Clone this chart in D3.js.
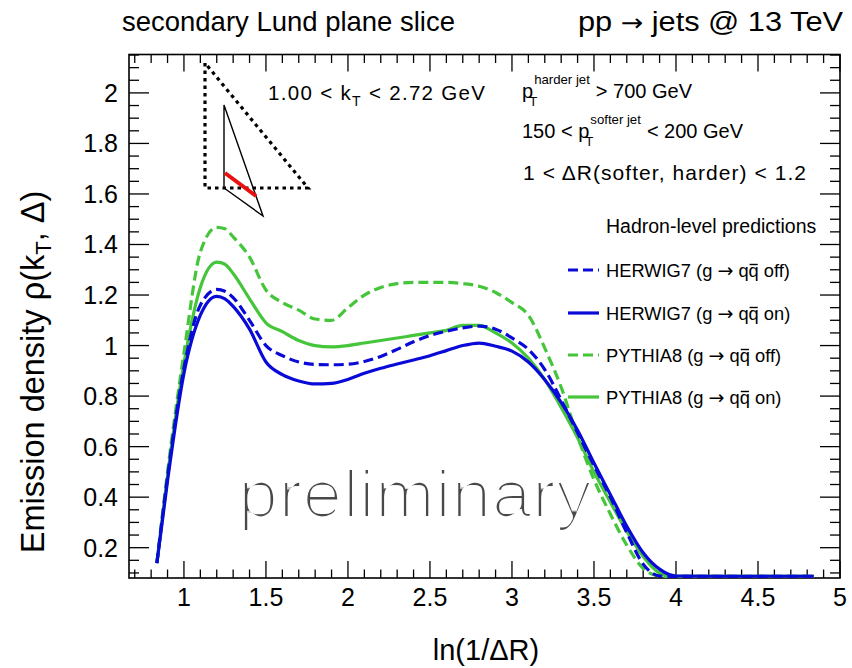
<!DOCTYPE html>
<html>
<head>
<meta charset="utf-8">
<script src="https://cdn.jsdelivr.net/npm/d3@7"></script>
<style>
  body { margin: 0; background: #fff; }
  svg { display: block; }
  text { font-family: "Liberation Sans", Arial, Helvetica, sans-serif; fill: #000; white-space: pre; }
  .sym { font-family: "DejaVu Sans", sans-serif; }
</style>
</head>
<body>
<svg id="chart" width="852" height="668"></svg>
<script>
// ln(1/ΔR) sampling points shared by all four predictions
const lnInvDR = [0.835, 0.9, 1.0, 1.1, 1.2, 1.25, 1.3, 1.4, 1.5, 1.6, 1.7, 1.8, 1.9, 2.0,
  2.1, 2.2, 2.3, 2.4, 2.5, 2.6, 2.7, 2.8, 2.9, 3.0, 3.1, 3.2, 3.3, 3.4, 3.5, 3.6,
  3.7, 3.8, 3.9, 4.0, 4.2, 4.4, 4.6, 4.84];

// emission density rho(kT, Delta) for each generator setting
const herwigOff = [0.139, 0.48, 0.91, 1.16, 1.222, 1.215, 1.19, 1.10, 1.00, 0.96, 0.935, 0.925,
  0.924, 0.926, 0.937, 0.957, 0.985, 1.015, 1.04, 1.057, 1.07, 1.077, 1.065, 1.03, 0.985,
  0.905, 0.785, 0.655, 0.525, 0.40, 0.26, 0.135, 0.088, 0.086, 0.087, 0.086, 0.087, 0.087];
const herwigOn = [0.139, 0.465, 0.89, 1.12, 1.195, 1.185, 1.155, 1.065, 0.935, 0.885, 0.86, 0.848,
  0.85, 0.866, 0.89, 0.91, 0.927, 0.943, 0.96, 0.98, 1.0, 1.01, 0.997, 0.978, 0.935,
  0.865, 0.775, 0.665, 0.535, 0.41, 0.285, 0.18, 0.115, 0.088, 0.087, 0.087, 0.087, 0.087];
const pythiaOff = [0.139, 0.50, 0.97, 1.37, 1.468, 1.462, 1.43, 1.35, 1.22, 1.17, 1.14, 1.105,
  1.10, 1.15, 1.20, 1.23, 1.245, 1.25, 1.25, 1.25, 1.245, 1.235, 1.21, 1.17, 1.12,
  0.99, 0.835, 0.64, 0.47, 0.333, 0.21, 0.118, 0.088, 0.086, 0.087, 0.087, 0.087, 0.087];
const pythiaOn = [0.139, 0.485, 0.93, 1.23, 1.33, 1.322, 1.285, 1.185, 1.09, 1.055, 1.02, 1.0,
  0.995, 1.0, 1.01, 1.02, 1.03, 1.04, 1.05, 1.06, 1.08, 1.08, 1.05, 1.01, 0.95,
  0.865, 0.755, 0.635, 0.50, 0.38, 0.265, 0.165, 0.10, 0.087, 0.087, 0.087, 0.087, 0.087];

const seriesNames = ["HERWIG7 (g ", "HERWIG7 (g ", "PYTHIA8 (g ", "PYTHIA8 (g "];
const seriesTails = [" off)", " on)", " off)", " on)"];
const seriesData = [herwigOff, herwigOn, pythiaOff, pythiaOn];
const seriesColors = ["#0a0ad8", "#0a0ad8", "#44c53a", "#44c53a"];
const seriesDashed = [true, false, true, false];

const xTickValues = [1, 1.5, 2, 2.5, 3, 3.5, 4, 4.5, 5];
const yTickValues = [0.2, 0.4, 0.6, 0.8, 1, 1.2, 1.4, 1.6, 1.8, 2];

const xDomain = [0.665, 5];
const yDomain = [0.08, 2.152];

const svg = d3.select("#chart");
const plot = { left: 129, right: 840, top: 54.5, bottom: 578 };

const x = d3.scaleLinear().domain(xDomain).range([plot.left, plot.right]);
const y = d3.scaleLinear().domain(yDomain).range([plot.bottom, plot.top]);

// minor tick positions
const xMinor = d3.range(7, 50).map(v => v / 10).filter(v => v > xDomain[0] && v < xDomain[1]);
const yMinor = d3.range(2, 44).map(v => v * 0.05).filter(v => v > yDomain[0] + 0.005 && v < yDomain[1] + 0.005);
const isMajor = (v, majors) => majors.some(t => Math.abs(t - v) < 1e-6);

// ---- axes (ticks on all four sides) ----
const axes = svg.append("g").attr("stroke", "#000").attr("stroke-width", 1.3);
function drawTicks(vals, len, side) {
  vals.forEach(v => {
    if (side === "bottom") axes.append("line").attr("x1", x(v)).attr("x2", x(v)).attr("y1", plot.bottom).attr("y2", plot.bottom - len);
    if (side === "top") axes.append("line").attr("x1", x(v)).attr("x2", x(v)).attr("y1", plot.top).attr("y2", plot.top + len);
    if (side === "left") axes.append("line").attr("y1", y(v)).attr("y2", y(v)).attr("x1", plot.left).attr("x2", plot.left + len);
    if (side === "right") axes.append("line").attr("y1", y(v)).attr("y2", y(v)).attr("x1", plot.right).attr("x2", plot.right - len);
  });
}
drawTicks(xTickValues, 17, "bottom");
drawTicks(xTickValues, 17, "top");
drawTicks(xMinor.filter(v => !isMajor(v, xTickValues)), 8.5, "bottom");
drawTicks(xMinor.filter(v => !isMajor(v, xTickValues)), 8.5, "top");
drawTicks(yTickValues, 20, "left");
drawTicks(yTickValues, 20, "right");
drawTicks(yMinor.filter(v => !isMajor(v, yTickValues)), 10, "left");
drawTicks(yMinor.filter(v => !isMajor(v, yTickValues)), 10, "right");

axes.append("rect").attr("x", plot.left).attr("y", plot.top)
  .attr("width", plot.right - plot.left).attr("height", plot.bottom - plot.top)
  .attr("fill", "none").attr("stroke-width", 1.6);

// tick labels
const fmt = v => (Math.round(v * 10) / 10).toString();
svg.append("g").selectAll("text").data(xTickValues).join("text")
  .attr("x", d => x(d)).attr("y", 606).attr("text-anchor", "middle")
  .attr("font-size", 25).text(fmt);
svg.append("g").selectAll("text").data(yTickValues).join("text")
  .attr("x", 118).attr("y", d => y(d) + 9).attr("text-anchor", "end")
  .attr("font-size", 25).text(fmt);

// axis titles
svg.append("text").attr("x", 486).attr("y", 660).attr("text-anchor", "middle")
  .attr("font-size", 29).text("ln(1/\u0394R)");
const yTitle = svg.append("text").attr("transform", "translate(44,372) rotate(-90)")
  .attr("text-anchor", "middle").attr("font-size", 32.5);
yTitle.append("tspan").text("Emission density \u03c1(k");
yTitle.append("tspan").attr("font-size", 22).attr("dy", 7).text("T");
yTitle.append("tspan").attr("dy", -7).text(", \u0394)");

// ---- curves ----
svg.append("clipPath").attr("id", "plotclip").append("rect")
  .attr("x", plot.left).attr("y", plot.top)
  .attr("width", plot.right - plot.left).attr("height", plot.bottom - plot.top);
const line = d3.line().x(d => x(d[0])).y(d => y(d[1])).curve(d3.curveMonotoneX);
const curves = svg.append("g").attr("clip-path", "url(#plotclip)");

// ---- preliminary watermark (thin strokes via erosion) ----
const defs = svg.append("defs");
defs.append("filter").attr("id", "thin").attr("x", "-5%").attr("y", "-5%").attr("width", "110%").attr("height", "110%")
  .append("feMorphology").attr("operator", "erode").attr("radius", "1.9 1.0");
svg.append("text").attr("x", 238).attr("y", 517)
  .attr("font-family", "Lato, 'Open Sans', sans-serif")
  .attr("font-size", 66).attr("textLength", 354).attr("lengthAdjust", "spacingAndGlyphs")
  .attr("filter", "url(#thin)")
  .style("fill", "#4a4a4a").text("preliminary");

// draw solid lines on top of dashed ones of the same family
[2, 3, 0, 1].forEach(i => {
  curves.append("path")
    .datum(lnInvDR.map((xv, k) => [xv, seriesData[i][k]]))
    .attr("d", line)
    .attr("fill", "none")
    .attr("stroke", seriesColors[i])
    .attr("stroke-width", 3.2)
    .attr("stroke-dasharray", seriesDashed[i] ? "10,5" : null);
});

// ---- headers ----
svg.append("text").attr("x", 122).attr("y", 31).attr("font-size", 27.5)
  .attr("textLength", 333).attr("lengthAdjust", "spacingAndGlyphs")
  .text("secondary Lund plane slice");
const hdr = svg.append("text").attr("x", 578).attr("y", 31).attr("font-size", 27.5)
  .attr("textLength", 265).attr("lengthAdjust", "spacingAndGlyphs");
hdr.append("tspan").text("pp ");
hdr.append("tspan").attr("class", "sym").attr("font-size", 24).text("\u2192");
hdr.append("tspan").text(" jets @ 13 TeV");

// ---- selection text ----
const kt = svg.append("text").attr("x", 268).attr("y", 100).attr("font-size", 20.5)
  .attr("textLength", 217).attr("lengthAdjust", "spacing");
kt.append("tspan").text("1.00 < k");
kt.append("tspan").attr("font-size", 14).attr("dy", 6).text("T");
kt.append("tspan").attr("dy", -6).text(" < 2.72 GeV");

// p_T with stacked superscript and subscript, as a single text element
function measure(str, size) {
  const m = svg.append("text").attr("font-size", size).text(str);
  const w = m.node().getComputedTextLength();
  m.remove();
  return w;
}
function ptLabel(px, py, size, prefix, sup, suffix) {
  const small = size * 0.66;
  const wSup = measure(sup, small);
  const wT = measure("T", small);
  const up = size * 0.68, down = size * 0.38;
  const t = svg.append("text").attr("x", px).attr("y", py).attr("font-size", size);
  t.append("tspan").text(prefix + "p");
  t.append("tspan").attr("font-size", small).attr("dx", 1).attr("dy", -up).text(sup);
  t.append("tspan").attr("font-size", small).attr("dx", -wSup - 5).attr("dy", up + down).text("T");
  t.append("tspan").attr("dx", wSup + 5 - wT + 6).attr("dy", -down).text(suffix);
}
ptLabel(522, 98, 20, "", "harder jet", "> 700 GeV");
ptLabel(522, 138, 20, "150 < ", "softer jet", "< 200 GeV");
svg.append("text").attr("x", 523).attr("y", 180).attr("font-size", 21)
  .attr("textLength", 283).attr("lengthAdjust", "spacing")
  .text("1 < \u0394R(softer, harder) < 1.2");

// ---- legend ----
svg.append("text").attr("x", 606).attr("y", 233).attr("font-size", 19.5)
  .text("Hadron-level predictions");
const legendY = [270, 313, 355, 397];
seriesNames.forEach((name, i) => {
  svg.append("line").attr("x1", 568).attr("x2", 599)
    .attr("y1", legendY[i]).attr("y2", legendY[i])
    .attr("stroke", seriesColors[i]).attr("stroke-width", 3.2)
    .attr("stroke-dasharray", seriesDashed[i] ? "10,5" : null);
  const by = legendY[i] + 7;
  const t = svg.append("text").attr("x", 606).attr("y", by).attr("font-size", 18.3);
  t.append("tspan").text(name);
  t.append("tspan").attr("class", "sym").attr("font-size", 19).text("\u2192");
  t.append("tspan").text(" q");
  const wq0 = t.node().getComputedTextLength();
  t.append("tspan").text("q");
  const wq1 = t.node().getComputedTextLength();
  t.append("tspan").text(seriesTails[i]);
  svg.append("line").attr("x1", 606 + wq0 + 1).attr("x2", 606 + wq1 - 1)
    .attr("y1", by - 12.5).attr("y2", by - 12.5)
    .attr("stroke", "#000").attr("stroke-width", 1.4);
});

// ---- Lund plane sketch ----
const sketch = svg.append("g").attr("fill", "none");
sketch.append("path").attr("d", "M205,63 L205,188 L308,188 Z")
  .attr("stroke", "#000").attr("stroke-width", 3.2).attr("stroke-dasharray", "3.5,4");
sketch.append("path").attr("d", "M224,105 L224,188 L263,216 Z")
  .attr("stroke", "#000").attr("stroke-width", 1.4);
sketch.append("line").attr("x1", 225).attr("y1", 173).attr("x2", 256).attr("y2", 196)
  .attr("stroke", "#e81010").attr("stroke-width", 4);
</script>
</body>
</html>
